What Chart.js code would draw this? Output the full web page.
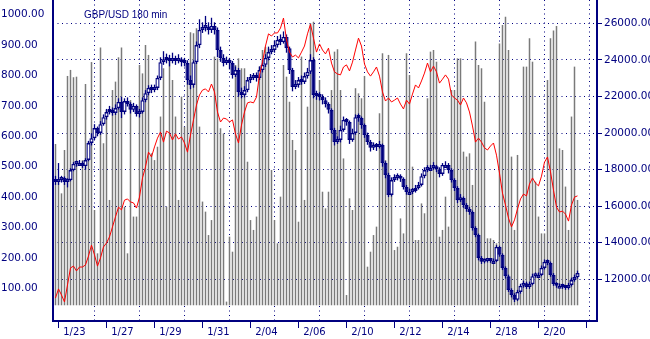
<!DOCTYPE html>
<html>
<head>
<meta charset="utf-8">
<script src="https://cdn.jsdelivr.net/npm/chart.js@4/dist/chart.umd.min.js"></script>
<style>
  html, body { margin: 0; padding: 0; background: #ffffff; }
  canvas { display: block; }
</style>
</head>
<body>
<canvas id="chart" width="650" height="339"></canvas>
<script>
// GBP/USD, 180-minute bars, 1/23 - 2/21
const chartTitle = 'GBP/USD 180 min';

// date labels, one per two trading days
const dateLabels = ['1/23', '1/27', '1/29', '1/31', '2/04', '2/06', '2/10', '2/12', '2/14', '2/18', '2/20'];

// price candles (left scale); each bar opens where the previous one closed
const firstOpen = 456;
const closes = [
  450, 456, 463, 450, 456, 489, 509, 512, 512, 502,
  522, 578, 594, 627, 611, 640, 663, 680, 687, 677,
  693, 713, 680, 716, 706, 687, 700, 673, 680, 719,
  742, 759, 752, 759, 792, 844, 851, 858, 848, 854,
  848, 851, 844, 841, 785, 769, 844, 900, 950, 956,
  960, 950, 963, 950, 884, 858, 841, 851, 841, 802,
  818, 746, 736, 752, 785, 792, 795, 792, 818, 835,
  858, 877, 884, 900, 917, 910, 927, 890, 818, 762,
  769, 785, 779, 798, 812, 851, 736, 733, 729, 719,
  706, 687, 621, 581, 588, 621, 654, 647, 588, 611,
  663, 660, 637, 604, 581, 562, 568, 565, 571, 512,
  473, 407, 456, 463, 466, 460, 433, 417, 417, 420,
  430, 440, 469, 489, 496, 496, 499, 492, 476, 506,
  506, 489, 456, 430, 390, 397, 374, 361, 351, 298,
  275, 200, 187, 190, 193, 190, 190, 236, 210, 167,
  140, 94, 78, 62, 88, 108, 117, 104, 114, 140,
  144, 144, 167, 187, 183, 144, 114, 108, 108, 104,
  101, 111, 127, 137, 150
];
const highs = [
  470, 512, 470, 468, 462, 495, 515, 520, 522, 518,
  528, 585, 610, 640, 632, 650, 672, 690, 700, 695,
  705, 725, 730, 725, 728, 712, 710, 705, 690, 728,
  752, 768, 770, 770, 800, 860, 880, 872, 868, 875,
  865, 870, 860, 858, 850, 800, 850, 912, 985, 975,
  996, 975, 990, 975, 958, 895, 870, 862, 858, 848,
  830, 825, 760, 765, 795, 805, 808, 810, 830, 850,
  870, 895, 900, 915, 930, 935, 945, 935, 895, 825,
  785, 795, 800, 810, 825, 870, 860, 750, 745, 738,
  728, 712, 692, 628, 600, 635, 665, 660, 652, 625,
  672, 675, 665, 642, 612, 588, 580, 578, 585, 576,
  518, 480, 465, 475, 478, 475, 465, 440, 428, 430,
  440, 450, 478, 498, 505, 506, 515, 506, 498, 512,
  518, 512, 495, 462, 436, 410, 402, 380, 368, 356,
  304, 280, 206, 198, 200, 198, 198, 242, 240, 215,
  172, 145, 100, 84, 95, 115, 125, 122, 122, 148,
  152, 152, 175, 195, 195, 188, 150, 120, 116, 115,
  110, 118, 135, 145, 158
];
const lows = [
  440, 440, 448, 440, 432, 452, 485, 500, 505, 496,
  490, 518, 570, 588, 600, 605, 635, 655, 672, 668,
  670, 688, 660, 672, 698, 675, 680, 665, 662, 675,
  712, 735, 742, 745, 752, 785, 835, 840, 830, 840,
  835, 840, 830, 830, 770, 755, 760, 838, 890, 940,
  945, 935, 940, 935, 860, 845, 830, 835, 820, 790,
  795, 730, 725, 728, 745, 775, 785, 780, 785, 810,
  828, 850, 870, 875, 892, 900, 905, 875, 805, 748,
  755, 760, 770, 772, 790, 805, 725, 720, 718, 705,
  695, 675, 610, 570, 575, 580, 615, 635, 575, 582,
  605, 648, 625, 595, 572, 550, 555, 552, 560, 500,
  462, 400, 402, 450, 455, 450, 425, 408, 410, 410,
  415, 425, 435, 462, 482, 488, 490, 482, 465, 470,
  498, 478, 448, 420, 380, 384, 365, 352, 342, 290,
  268, 192, 180, 182, 185, 184, 183, 186, 204, 160,
  132, 88, 70, 55, 58, 82, 102, 98, 98, 110,
  135, 136, 140, 162, 176, 138, 108, 102, 102, 98,
  95, 96, 106, 122, 132
];

// indicator line (left scale)
const indicator = [
  68, 98, 78, 55, 111, 167, 173, 157, 170, 170,
  177, 206, 242, 210, 173, 200, 236, 249, 269, 302,
  335, 367, 358, 390, 394, 384, 381, 364, 400, 463,
  499, 548, 532, 565, 594, 614, 581, 617, 611, 588,
  608, 591, 598, 578, 548, 604, 654, 703, 736, 752,
  756, 746, 772, 746, 680, 647, 660, 657, 647, 654,
  608, 578, 637, 680, 710, 713, 710, 729, 802, 844,
  897, 937, 930, 940, 940, 956, 989, 917, 877, 861,
  867, 858, 877, 897, 937, 969, 923, 877, 904, 884,
  871, 890, 841, 812, 805, 802, 828, 835, 815, 844,
  884, 923, 897, 838, 812, 798, 812, 828, 798, 746,
  716, 726, 713, 719, 726, 706, 690, 719, 706, 739,
  769, 759, 782, 808, 841, 812, 831, 812, 775, 788,
  802, 788, 736, 726, 719, 703, 726, 710, 680, 634,
  581, 594, 581, 562, 555, 568, 578, 538, 479, 413,
  374, 331, 302, 325, 361, 394, 410, 404, 443, 463,
  446, 437, 469, 515, 532, 483, 423, 367, 351, 354,
  344, 321, 374, 400, 404
];

// tick volume per bar (right scale)
const volume = [
  19400, 17430, 16700, 19070, 23120, 23450, 23050, 23080, 15790, 18520,
  22680, 19530, 23880, 15790, 13420, 24670, 19440, 21260, 16340, 22350,
  22810, 24140, 24670, 15970, 13420, 21800, 15430, 15430, 23720, 23260,
  24810, 24270, 18890, 18520, 19250, 20900, 23540, 15970, 23990, 22900,
  20900, 16340, 21990, 20350, 23000, 25510, 25450, 25730, 20350, 16250,
  15700, 14420, 15240, 24180, 24085, 20260, 19980, 10780, 14330, 13510,
  23720, 24085, 23540, 23540, 18430, 15240, 14700, 15430, 23630, 24540,
  24720, 24630, 17980, 15240, 13970, 16520, 23720, 23080, 21710, 19620,
  19070, 15150, 24180, 16340, 21440, 26000, 26090, 22080, 22900, 16790,
  15880, 16790, 22350, 24450, 24580, 22350, 18610, 11140, 16430, 15790,
  22450, 22170, 21900, 23120, 12690, 13510, 14420, 14880, 21080, 24360,
  18520, 24270, 17340, 13600, 13780, 15330, 14510, 24360, 23170, 18160,
  14150, 14150, 16150, 15610, 21900, 24450, 24540, 23900, 14330, 14700,
  16520, 14880, 22350, 22350, 24085, 24085, 18980, 18710, 18890, 17160,
  25000, 23720, 23540, 21710, 14240, 14240, 14150, 13970, 24900, 25910,
  26360, 24540, 18710, 14700, 18800, 11230, 23630, 23630, 25180, 23900,
  17340, 15430, 14510, 14510, 22900, 25180, 25600, 25850, 19160, 19070,
  17070, 14700, 20900, 23630, 16340
];

const opens = closes.map((c, i) => (i === 0 ? firstOpen : closes[i - 1]));

const NAVY = '#000080';
const BARS_PER_LABEL = 16;   // two trading days of 180-minute bars
const GRID_STEP = 15;
const X_MIN = -0.8333;
const X_MAX = 180.5;
const axisFont = { family: 'DejaVu Sans', size: 10.5 };

const captionPlugin = {
  id: 'caption',
  afterDraw(chart) {
    const ctx = chart.ctx;
    ctx.save();
    ctx.font = '10px "Liberation Sans", Arial, sans-serif';
    ctx.fillStyle = NAVY;
    ctx.textAlign = 'left';
    ctx.textBaseline = 'middle';
    ctx.fillText(chartTitle, 84, 15.5);
    ctx.restore();
  }
};

new Chart(document.getElementById('chart'), {
  type: 'bar',
  data: {
    datasets: [
      {
        type: 'line',
        label: 'indicator',
        data: indicator.map((v, i) => ({ x: i, y: v })),
        yAxisID: 'y',
        borderColor: '#ff0000',
        borderWidth: 1,
        pointRadius: 0,
        tension: 0,
        fill: false,
        order: 1
      },
      {
        type: 'bar',
        label: 'body',
        data: closes.map((c, i) => ({ x: i, y: [opens[i], c] })),
        yAxisID: 'y',
        grouped: false,
        categoryPercentage: 1,
        barPercentage: 1.4,
        minBarLength: 3,
        borderWidth: 1.4,
        borderSkipped: false,
        borderColor: NAVY,
        backgroundColor: (ctx) => (closes[ctx.dataIndex] >= opens[ctx.dataIndex] ? '#ffffff' : NAVY),
        order: 2
      },
      {
        type: 'bar',
        label: 'range',
        data: highs.map((h, i) => ({ x: i, y: [lows[i], h] })),
        yAxisID: 'y',
        grouped: false,
        maxBarThickness: 1.3,
        backgroundColor: NAVY,
        borderWidth: 0,
        order: 3
      },
      {
        type: 'bar',
        label: 'volume',
        data: volume.map((v, i) => ({ x: i, y: v })),
        yAxisID: 'yVol',
        base: 10580,
        grouped: false,
        maxBarThickness: 1.5,
        backgroundColor: '#7a7a7a',
        borderWidth: 0,
        order: 4
      }
    ]
  },
  options: {
    responsive: false,
    animation: false,
    devicePixelRatio: 1,
    layout: { padding: { left: 1, right: 0, top: 0, bottom: 0 } },
    plugins: { legend: { display: false }, tooltip: { enabled: false } },
    scales: {
      x: {
        type: 'linear',
        position: 'bottom',
        min: X_MIN,
        max: X_MAX,
        offset: false,
        grid: { drawOnChartArea: false, drawTicks: true, tickLength: 7, tickColor: NAVY, tickWidth: 1, offset: false },
        border: { display: true, color: NAVY, width: 2 },
        ticks: {
          autoSkip: false, maxRotation: 0, minRotation: 0,
          align: 'start', labelOffset: 5, padding: -2,
          color: NAVY, font: { family: 'DejaVu Sans', size: 10 },
          callback: (v, idx) => dateLabels[idx] ?? ''
        },
        afterBuildTicks: (s) => {
          s.ticks = Array.from({ length: dateLabels.length + 1 }, (_, k) => ({ value: 0.9 + BARS_PER_LABEL * k }));
        },
        afterFit: (s) => { s.height = 18; s.paddingLeft = 0; s.paddingRight = 0; }
      },
      xGrid: {
        type: 'linear',
        position: 'bottom',
        min: X_MIN,
        max: X_MAX,
        offset: false,
        grid: { drawOnChartArea: true, drawTicks: false, color: NAVY, lineWidth: 1, offset: false },
        border: { display: false, dash: [1, 3.5] },
        ticks: { display: false },
        afterBuildTicks: (s) => {
          s.ticks = Array.from({ length: 12 }, (_, k) => ({ value: 13 + GRID_STEP * k }));
        },
        afterFit: (s) => { s.height = 0; s.paddingLeft = 0; s.paddingRight = 0; }
      },
      y: {
        type: 'linear',
        position: 'left',
        min: -7.57,
        max: 1048.4,
        grid: { drawOnChartArea: false, drawTicks: false },
        border: { display: true, color: NAVY, width: 2 },
        ticks: {
          crossAlign: 'far', padding: 0, color: NAVY, font: axisFont,
          callback: (v) => Number(v).toFixed(2)
        },
        afterBuildTicks: (s) => {
          s.ticks = Array.from({ length: 10 }, (_, k) => ({ value: 100 * (k + 1) }));
        },
        afterFit: (s) => { s.width = 52; s.paddingTop = 0; s.paddingBottom = 0; }
      },
      yVol: {
        type: 'linear',
        position: 'right',
        min: 9720,
        max: 27274,
        grid: { drawOnChartArea: true, drawTicks: true, tickLength: 5, tickColor: NAVY, tickBorderDash: [], color: NAVY, lineWidth: 1 },
        border: { display: true, color: NAVY, width: 2, dash: [1, 3.5] },
        ticks: {
          padding: 2, color: NAVY, font: axisFont,
          callback: (v) => Number(v).toFixed(2)
        },
        afterBuildTicks: (s) => {
          s.ticks = Array.from({ length: 8 }, (_, k) => ({ value: 12000 + 2000 * k }));
        },
        afterFit: (s) => { s.width = 53; s.paddingTop = 0; s.paddingBottom = 0; }
      }
    }
  },
  plugins: [captionPlugin]
});
</script>
</body>
</html>
